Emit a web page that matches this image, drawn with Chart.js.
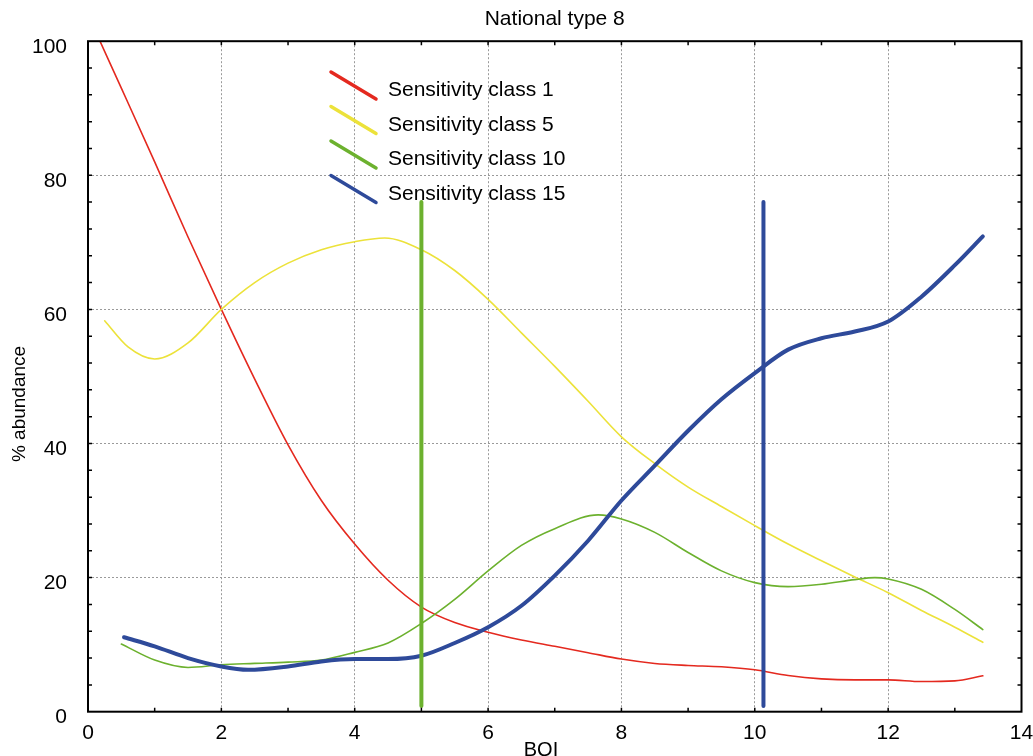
<!DOCTYPE html>
<html>
<head>
<meta charset="utf-8">
<title>National type 8</title>
<script src="https://cdn.jsdelivr.net/npm/chart.js@4/dist/chart.umd.min.js"></script>
<style>
  html, body { margin: 0; padding: 0; background: #ffffff; }
  #wrap { width: 1033px; height: 756px; }
</style>
</head>
<body>
<div id="wrap"><canvas id="chart" width="1033" height="756"></canvas></div>
<script>
// ----------------- Datos -----------------

const seriesLabels = ['Sensitivity class 1', 'Sensitivity class 5', 'Sensitivity class 10', 'Sensitivity class 15'];

const class1X = [0.18, 0.5, 1, 1.5, 2, 2.5, 3, 3.5, 4, 4.5, 5, 5.5, 6, 6.5, 7, 7.5, 8, 8.5, 9, 9.5, 10, 10.5, 11, 11.5, 12, 12.5, 13, 13.42];
const class1Y = [100, 93, 82, 70.8, 60, 49.6, 39.8, 31.5, 25, 19.6, 15.6, 13.3, 11.85, 10.7, 9.75, 8.8, 7.85, 7.2, 6.9, 6.7, 6.25, 5.4, 4.9, 4.75, 4.75, 4.5, 4.6, 5.35];

const class5X = [0.25, 0.6, 1, 1.5, 2, 2.5, 3, 3.5, 4, 4.45, 5, 5.5, 6, 6.5, 7, 7.5, 8, 8.5, 9, 9.5, 10, 10.5, 11, 11.5, 12, 12.5, 13, 13.42];
const class5Y = [58.3, 54.4, 52.6, 55, 60, 64, 66.9, 68.9, 70.1, 70.65, 68.9, 65.8, 61.5, 56.5, 51.5, 46.3, 41, 37, 33.5, 30.6, 27.75, 25, 22.5, 20.1, 17.75, 15.1, 12.6, 10.35];

const class10X = [0.5, 1, 1.5, 2, 2.5, 3, 3.5, 4, 4.5, 5, 5.5, 6, 6.5, 7, 7.65, 8, 8.5, 9, 9.5, 10, 10.5, 11, 11.5, 11.8, 12, 12.5, 13, 13.42];
const class10Y = [10.1, 7.7, 6.6, 7.0, 7.2, 7.4, 7.7, 8.85, 10.25, 13.15, 16.75, 21, 24.8, 27.3, 29.35, 28.75, 26.75, 23.75, 21, 19.25, 18.65, 19, 19.7, 20, 19.8, 18.25, 15.25, 12.25];

const class15X = [0.54, 1, 1.5, 2, 2.4, 3, 3.5, 4, 4.5, 5, 5.5, 6, 6.5, 7, 7.5, 8, 8.5, 9, 9.5, 10, 10.5, 11, 11.5, 12, 12.5, 13, 13.42];
const class15Y = [11.1, 9.75, 8.0, 6.75, 6.25, 6.75, 7.5, 7.85, 7.85, 8.35, 10.25, 12.6, 15.8, 20.3, 25.5, 31.5, 36.7, 41.9, 46.6, 50.5, 54, 55.7, 56.7, 58.2, 61.9, 66.6, 70.9];

// líneas verticales (umbral de clase 10 y de clase 15)
const markerX = [5, 10.13];
const markerY = [0.85, 76];

// ejes
const xTicks = [0, 2, 4, 6, 8, 10, 12, 14];
const yTicks = [0, 20, 40, 60, 80, 100];

// ----------------- Estilo -----------------

const palette = {
  red: '#e4291f',
  yellow: '#ece23a',
  green: '#6cb12e',
  blue: '#2e4a9a'
};

const FONT = "'Liberation Sans', Arial, Helvetica, sans-serif";
Chart.defaults.font.family = FONT;
Chart.defaults.color = '#000';

function toPoints(xs, ys) {
  return xs.map((x, i) => ({ x, y: ys[i] }));
}

function curve(label, xs, ys, color, width, order) {
  return {
    label,
    data: toPoints(xs, ys),
    showLine: true,
    borderColor: color,
    backgroundColor: color,
    borderWidth: width,
    pointRadius: 0,
    cubicInterpolationMode: 'monotone',
    borderCapStyle: 'round',
    borderJoinStyle: 'round',
    inLegend: true,
    order
  };
}

function marker(x, color) {
  return {
    label: '',
    data: markerY.map(y => ({ x, y })),
    showLine: true,
    borderColor: color,
    borderWidth: 4,
    pointRadius: 0,
    borderCapStyle: 'round',
    inLegend: false,
    order: 1
  };
}

// ----------------- Plugin: marco, ticks internos, leyenda, títulos -----------------

const decorPlugin = {
  id: 'decor',
  afterDraw(chart) {
    const { ctx, chartArea: a, scales } = chart;
    const xs = scales.x;
    const ys = scales.y;
    ctx.save();

    // ticks menores hacia dentro
    ctx.strokeStyle = '#000';
    ctx.lineWidth = 1.5;
    ctx.beginPath();
    for (let v = 1; v < 14; v++) {
      const px = xs.getPixelForValue(v);
      ctx.moveTo(px, a.bottom); ctx.lineTo(px, a.bottom - 4);
      ctx.moveTo(px, a.top); ctx.lineTo(px, a.top + 4);
    }
    for (let v = 4; v < 100; v += 4) {
      const py = ys.getPixelForValue(v);
      ctx.moveTo(a.left, py); ctx.lineTo(a.left + 4, py);
      ctx.moveTo(a.right, py); ctx.lineTo(a.right - 4, py);
    }
    ctx.stroke();

    // marco
    ctx.lineWidth = 2;
    ctx.strokeRect(a.left, a.top, a.right - a.left, a.bottom - a.top);

    // leyenda
    const items = chart.data.datasets.filter(d => d.inLegend);
    ctx.lineCap = 'round';
    ctx.font = `21px ${FONT}`;
    ctx.textBaseline = 'alphabetic';
    ctx.textAlign = 'left';
    items.forEach((d, i) => {
      const dy = i * 34.5;
      ctx.strokeStyle = d.borderColor;
      ctx.lineWidth = 3.5;
      ctx.beginPath();
      ctx.moveTo(331, 72 + dy);
      ctx.lineTo(376, 99 + dy);
      ctx.stroke();
      ctx.fillStyle = '#000';
      ctx.fillText(d.label, 388, 96 + dy);
    });

    // títulos de ejes
    ctx.fillStyle = '#000';
    ctx.textAlign = 'center';
    ctx.textBaseline = 'middle';
    ctx.font = `20px ${FONT}`;
    ctx.fillText('BQI', 541, 750);

    ctx.save();
    ctx.translate(20, 404);
    ctx.rotate(-Math.PI / 2);
    ctx.font = `19px ${FONT}`;
    ctx.fillText('% abundance', 0, 0);
    ctx.restore();

    ctx.restore();
  }
};

// ----------------- Gráfico -----------------

function initChart() {
  const canvas = document.getElementById('chart');
  if (!canvas) return;
  const ctx = canvas.getContext('2d');

  new Chart(ctx, {
    type: 'scatter',
    data: {
      datasets: [
        curve(seriesLabels[0], class1X, class1Y, palette.red, 1.6, 6),
        curve(seriesLabels[1], class5X, class5Y, palette.yellow, 1.6, 5),
        curve(seriesLabels[2], class10X, class10Y, palette.green, 1.6, 4),
        curve(seriesLabels[3], class15X, class15Y, palette.blue, 4, 3),
        marker(markerX[0], palette.green),
        marker(markerX[1], palette.blue)
      ]
    },
    options: {
      responsive: false,
      animation: false,
      devicePixelRatio: 1,
      events: [],
      layout: {
        padding: { top: 0, right: 0, bottom: 0, left: 0 }
      },
      plugins: {
        legend: { display: false },
        tooltip: { enabled: false },
        title: {
          display: true,
          text: 'National type 8',
          fullSize: false,
          color: '#000',
          font: { size: 21, weight: 'normal' },
          padding: { top: 7, bottom: 9 }
        }
      },
      scales: {
        x: {
          type: 'linear',
          min: 0,
          max: 14,
          afterBuildTicks: (scale) => {
            scale.ticks = xTicks.map(v => ({ value: v }));
          },
          afterFit: (scale) => {
            scale.height = 44.3;
            scale.paddingLeft = 0;
            scale.paddingRight = 11.5;
          },
          ticks: {
            font: { size: 21 },
            color: '#000',
            padding: 9,
            maxRotation: 0
          },
          grid: {
            color: '#9a9a9a',
            lineWidth: 1,
            drawTicks: false
          },
          border: { display: false, dash: [2, 2] }
        },
        y: {
          type: 'linear',
          min: 0,
          max: 100,
          afterBuildTicks: (scale) => {
            scale.ticks = yTicks.map(v => ({ value: v }));
          },
          afterFit: (scale) => { scale.width = 88; },
          ticks: {
            font: { size: 21 },
            color: '#000',
            padding: 21,
            labelOffset: 6
          },
          grid: {
            color: '#9a9a9a',
            lineWidth: 1,
            drawTicks: false
          },
          border: { display: false, dash: [2, 2] }
        }
      }
    },
    plugins: [decorPlugin]
  });
}

document.addEventListener('DOMContentLoaded', initChart);
</script>
</body>
</html>
